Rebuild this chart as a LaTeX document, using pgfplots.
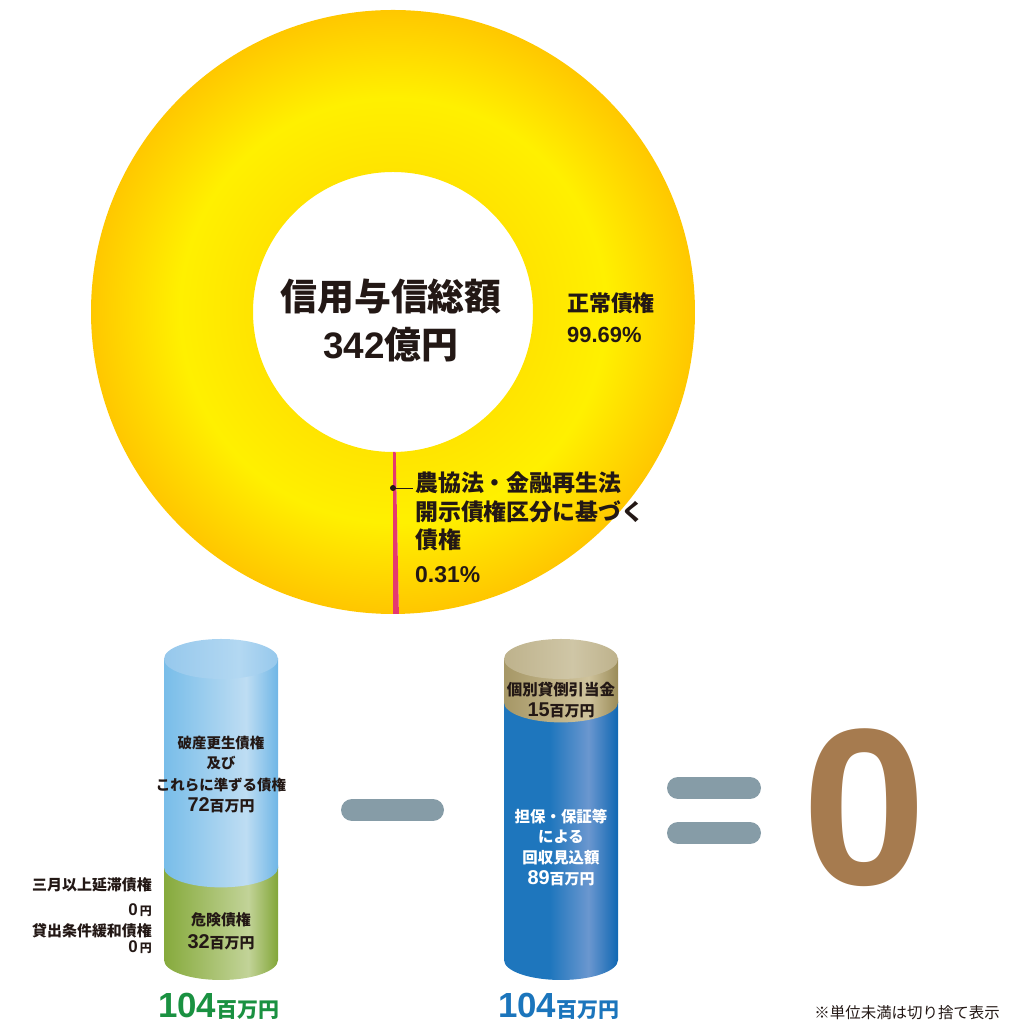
\documentclass[border=0pt]{standalone}
\usepackage{pgfplots}
\pgfplotsset{compat=1.18}
\usepackage{fontspec}
\setmainfont{Noto Sans CJK JP}
\newfontfamily\hv{Liberation Sans}

\definecolor{txt}{HTML}{231815}
\definecolor{yIn}{HTML}{FFE400}
\definecolor{yMid}{HTML}{FFF000}
\definecolor{yOut}{HTML}{FFC600}
\definecolor{pinkc}{HTML}{E5386F}
\definecolor{graybar}{HTML}{869CA7}
\definecolor{brownc}{HTML}{A67B4F}
\definecolor{greentxt}{HTML}{1A9141}
\definecolor{bluetxt}{HTML}{1B75BC}
% cylinder colours
\definecolor{lbA}{HTML}{78BDE9}
\definecolor{lbB}{HTML}{BEDDF3}
\definecolor{lbC}{HTML}{6FB6E6}
\definecolor{lcA}{HTML}{96C8EC}
\definecolor{lcB}{HTML}{B3D8F2}
\definecolor{grA}{HTML}{86AA3C}
\definecolor{grB}{HTML}{C2D398}
\definecolor{grC}{HTML}{82A638}
\definecolor{tnA}{HTML}{A69766}
\definecolor{tnB}{HTML}{CFC39C}
\definecolor{tnC}{HTML}{9A8B58}
\definecolor{tcA}{HTML}{BEB28C}
\definecolor{tcB}{HTML}{CFC6A6}
\definecolor{buA}{HTML}{1E76BD}
\definecolor{buB}{HTML}{6B97CF}
\definecolor{buC}{HTML}{0F67B3}

\pgfdeclarehorizontalshading{shLblue}{100bp}{color(0bp)=(lbA); color(25bp)=(lbA); color(61bp)=(lbB); color(75bp)=(lbC); color(100bp)=(lbC)}
\pgfdeclarehorizontalshading{shLcap}{100bp}{color(0bp)=(lcA); color(25bp)=(lcA); color(58bp)=(lcB); color(75bp)=(lcA); color(100bp)=(lcA)}
\pgfdeclarehorizontalshading{shGreen}{100bp}{color(0bp)=(grA); color(25bp)=(grA); color(62bp)=(grB); color(75bp)=(grC); color(100bp)=(grC)}
\pgfdeclarehorizontalshading{shTan}{100bp}{color(0bp)=(tnA); color(25bp)=(tnA); color(62bp)=(tnB); color(75bp)=(tnC); color(100bp)=(tnC)}
\pgfdeclarehorizontalshading{shTcap}{100bp}{color(0bp)=(tcA); color(25bp)=(tcA); color(55bp)=(tcB); color(75bp)=(tcA); color(100bp)=(tcA)}
\pgfdeclarehorizontalshading{shBlue}{100bp}{color(0bp)=(buA); color(25bp)=(buA); color(45bp)=(buA); color(62bp)=(buB); color(75bp)=(buC); color(100bp)=(buC)}
\pgfdeclareradialshading{shDonut}{\pgfpoint{0bp}{0bp}}{color(0bp)=(yIn); color(11.5bp)=(yIn); color(17.5bp)=(yMid); color(25bp)=(yOut); color(50bp)=(yOut)}

\pgfplotsset{base/.style={width=1022bp, height=1023bp, scale only axis, hide axis, clip=false,
  at={(0,0)}, anchor=south west, xmin=0, xmax=1022}}
\pgfplotsset{cyl/.style={base, ymin=-21.767, ymax=331.69, ybar stacked, bar width=114}}

\begin{document}
\begin{tikzpicture}
% ---------- bottom ends of the cylinders ----------
\begin{axis}[cyl]
  \shade[shading=shGreen] (axis cs:221,0) ellipse [x radius=57bp, y radius=20bp];
  \shade[shading=shBlue] (axis cs:561,0) ellipse [x radius=57bp, y radius=20bp];
\end{axis}
% ---------- left cylinder: 32 + 72 = 104 ----------
\begin{axis}[cyl]
  \addplot[draw=none, shade, shading=shGreen] coordinates {(221,32)};
  \addplot[draw=none, shade, shading=shLblue] coordinates {(221,72)};
\end{axis}
% ---------- right cylinder: 89 + 15 = 104 ----------
\begin{axis}[cyl]
  \addplot[draw=none, shade, shading=shBlue] coordinates {(561,89)};
  \addplot[draw=none, shade, shading=shTan] coordinates {(561,15)};
\end{axis}
% ---------- section boundaries and top caps ----------
\begin{axis}[cyl]
  \shade[shading=shLblue] ([xshift=-57bp,yshift=2bp]axis cs:221,32) -- ([xshift=-57bp]axis cs:221,32)
     arc[start angle=180, end angle=360, x radius=57bp, y radius=20bp] -- ([xshift=57bp,yshift=2bp]axis cs:221,32) -- cycle;
  \shade[shading=shLcap] (axis cs:221,104) ellipse [x radius=57bp, y radius=20bp];
  \shade[shading=shTan] ([xshift=-57bp,yshift=2bp]axis cs:561,89) -- ([xshift=-57bp]axis cs:561,89)
     arc[start angle=180, end angle=360, x radius=57bp, y radius=20bp] -- ([xshift=57bp,yshift=2bp]axis cs:561,89) -- cycle;
  \shade[shading=shTcap] (axis cs:561,104) ellipse [x radius=57bp, y radius=20bp];
\end{axis}
% ---------- main layer: donut and texts ----------
\begin{axis}[base, ymin=0, ymax=1023, name=ax]
  \pgfmathsetmacro\aS{270}
  \pgfmathsetmacro\aM{270+3.6*0.31}
  \pgfmathsetmacro\aE{270+3.6*(0.31+99.69)}
  \shade[shading=shDonut] ([shift={(\aM:302bp)}]axis cs:393,711) arc[start angle=\aM, end angle=\aE, radius=302bp]
     -- ([shift={(\aE:140bp)}]axis cs:393,711) arc[start angle=\aE, end angle=\aM, radius=140bp] -- cycle;
  \fill[pinkc] ([shift={(\aS:302bp)}]axis cs:393,711) arc[start angle=\aS, end angle=\aM, radius=302bp]
     -- ([shift={(\aM:140bp)}]axis cs:393,711) arc[start angle=\aM, end angle=\aS, radius=140bp] -- cycle;
  % centre text
  \node[text=txt, inner sep=0, font=\bfseries\fontsize{37}{40}\selectfont] at (axis cs:391,726) {信用与信総額};
  \node[text=txt, inner sep=0, font=\bfseries\fontsize{37}{40}\selectfont] at (axis cs:391,678) {{\hv 342}億円};
  % labels
  \node[text=txt, inner sep=0, anchor=west, font=\bfseries\fontsize{22}{24}\selectfont] at (axis cs:567,720) {正常債権};
  \node[text=txt, inner sep=0, anchor=west, font=\hv\bfseries\fontsize{22}{24}\selectfont] at (axis cs:567,688) {99.69\%};
  \fill[txt] (axis cs:393,535) circle[radius=3bp];
  \draw[txt, line width=0.8bp] (axis cs:393,535) -- (axis cs:413,535);
  \node[text=txt, inner sep=0, anchor=west, font=\bfseries\fontsize{23}{25}\selectfont] at (axis cs:415,540) {農協法・金融再生法};
  \node[text=txt, inner sep=0, anchor=west, font=\bfseries\fontsize{23}{25}\selectfont] at (axis cs:415,511) {開示債権区分に基づく};
  \node[text=txt, inner sep=0, anchor=west, font=\bfseries\fontsize{23}{25}\selectfont] at (axis cs:415,483) {債権};
  \node[text=txt, inner sep=0, anchor=west, font=\hv\bfseries\fontsize{23}{25}\selectfont] at (axis cs:415,448) {0.31\%};
  % left cylinder texts
  \node[text=txt, inner sep=0, font=\bfseries\fontsize{14.5}{16}\selectfont] at (axis cs:221,280) {破産更生債権};
  \node[text=txt, inner sep=0, font=\bfseries\fontsize{14.5}{16}\selectfont] at (axis cs:221,260) {及び};
  \node[text=txt, inner sep=0, font=\bfseries\fontsize{14.5}{16}\selectfont] at (axis cs:221,238) {これらに準ずる債権};
  \node[text=txt, inner sep=0, font=\bfseries\fontsize{15}{16}\selectfont] at (axis cs:221,218) {{\hv\fontsize{20}{20}\selectfont 72}百万円};
  \node[text=txt, inner sep=0, font=\bfseries\fontsize{15}{16}\selectfont] at (axis cs:221,103) {危険債権};
  \node[text=txt, inner sep=0, font=\bfseries\fontsize{15}{16}\selectfont] at (axis cs:221,81) {{\hv\fontsize{20}{20}\selectfont 32}百万円};
  % right cylinder texts
  \node[text=txt, inner sep=0, font=\bfseries\fontsize{15.5}{16}\selectfont] at (axis cs:561,333) {個別貸倒引当金};
  \node[text=txt, inner sep=0, font=\bfseries\fontsize{15}{16}\selectfont] at (axis cs:561,313) {{\hv\fontsize{20}{20}\selectfont 15}百万円};
  \node[text=white, inner sep=0, font=\bfseries\fontsize{15.5}{16}\selectfont] at (axis cs:561,206) {担保・保証等};
  \node[text=white, inner sep=0, font=\bfseries\fontsize{15.5}{16}\selectfont] at (axis cs:561,186) {による};
  \node[text=white, inner sep=0, font=\bfseries\fontsize{15.5}{16}\selectfont] at (axis cs:561,165) {回収見込額};
  \node[text=white, inner sep=0, font=\bfseries\fontsize{15}{16}\selectfont] at (axis cs:561,145) {{\hv\fontsize{20}{20}\selectfont 89}百万円};
  % left side labels
  \node[text=txt, inner sep=0, anchor=east, font=\bfseries\fontsize{15}{16}\selectfont] at (axis cs:152,138) {三月以上延滞債権};
  \node[text=txt, inner sep=0, anchor=east, font=\bfseries\fontsize{12}{14}\selectfont] at (axis cs:152,113) {{\hv\fontsize{17}{17}\selectfont 0}\,円};
  \node[text=txt, inner sep=0, anchor=east, font=\bfseries\fontsize{15}{16}\selectfont] at (axis cs:152,92) {貸出条件緩和債権};
  \node[text=txt, inner sep=0, anchor=east, font=\bfseries\fontsize{12}{14}\selectfont] at (axis cs:152,76) {{\hv\fontsize{17}{17}\selectfont 0}\,円};
  % totals
  \node[text=greentxt, inner sep=0, anchor=base west, font=\bfseries\fontsize{21}{22}\selectfont] at (axis cs:158,6) {{\hv\fontsize{35}{36}\selectfont 104}百万円};
  \node[text=bluetxt, inner sep=0, anchor=base west, font=\bfseries\fontsize{21}{22}\selectfont] at (axis cs:498,6) {{\hv\fontsize{35}{36}\selectfont 104}百万円};
  % operators and result
  \draw[graybar, line width=22bp, line cap=round] (axis cs:352,213) -- (axis cs:433,213);
  \draw[graybar, line width=22bp, line cap=round] (axis cs:678,235) -- (axis cs:750,235);
  \draw[graybar, line width=22bp, line cap=round] (axis cs:678,190) -- (axis cs:750,190);
  \node[text=brownc, inner sep=0, font=\hv\bfseries\fontsize{224}{224}\selectfont] at (axis cs:864.5,215.5) {0};
  % footnote
  \node[text=txt, inner sep=0, anchor=east, font=\fontsize{15.5}{16}\selectfont] at (axis cs:1000,10) {※単位未満は切り捨て表示};
\end{axis}
\pgfresetboundingbox
\path[use as bounding box] (0,0) rectangle (1022bp,1023bp);
\end{tikzpicture}
\end{document}
